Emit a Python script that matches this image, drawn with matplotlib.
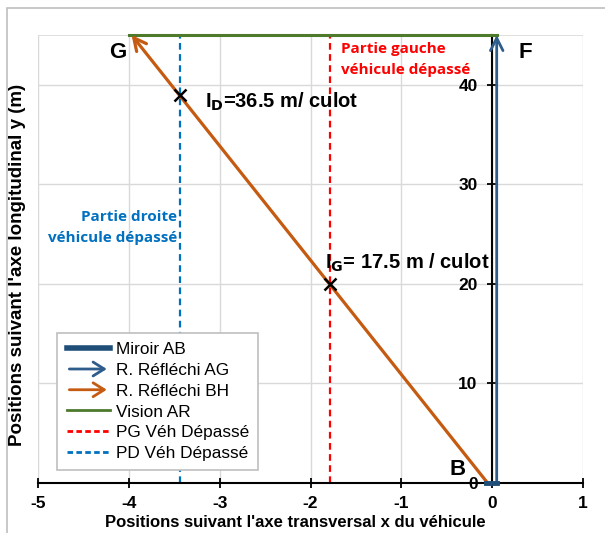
import matplotlib.pyplot as plt
from matplotlib.patches import FancyArrowPatch, Rectangle
from matplotlib.legend_handler import HandlerPatch
from matplotlib.lines import Line2D

plt.rcParams['font.family'] = ['Liberation Sans', 'DejaVu Sans']
plt.rcParams['axes.unicode_minus'] = False

# data
miroir_x = [-0.07, 0.05]
miroir_y = [0, 0]
ag_x = [0.05, 0.05]
ag_y = [0, 45]
bh_x = [-0.05, -3.97]
bh_y = [0, 45]
vision_x = [-4.0, 0.05]
vision_y = [45, 45]
pg_x = -1.78
pd_x = -3.44
cross_x = [-1.78, -3.44]
cross_y = [20, 39]

c_miroir = '#1F4E79'
c_ag = '#2E5D8C'
c_bh = '#C55A11'
c_vis = '#4E7A2C'
c_pg = '#FF0000'
c_pd = '#0070C0'


class HandlerArrow(HandlerPatch):
    def create_artists(self, legend, orig_handle, xdescent, ydescent,
                       width, height, fontsize, trans):
        y = height / 2 - ydescent
        p = FancyArrowPatch((-xdescent, y), (width - xdescent, y),
                            arrowstyle='->,head_length=8,head_width=5',
                            color=orig_handle.get_edgecolor(), lw=2,
                            mutation_scale=1)
        p.set_transform(trans)
        return [p]


fig = plt.figure(figsize=(6.05, 5.33), dpi=100)
ax = fig.add_axes([38 / 605, 1 - 483 / 533, 545 / 605, 448 / 533])

# outer chart border
fig.patches.append(Rectangle((7 / 605, -0.05), 1.2, 1 - 8 / 533 + 0.05,
                             transform=fig.transFigure, fill=False,
                             edgecolor='#BFBFBF', lw=1.2))

ax.set_xlim(-5, 1)
ax.set_ylim(0, 45)
ax.set_xticks(range(-5, 2))
ax.set_yticks(range(0, 41, 10))
ax.grid(True, color='#D9D9D9', lw=1)
ax.set_axisbelow(True)
ax.axhline(45, color='#D9D9D9', lw=1.2, zorder=0)

for s in ['top', 'right']:
    ax.spines[s].set_visible(False)
ax.spines['left'].set_position(('data', 0))
ax.spines['left'].set_color('black')
ax.spines['left'].set_linewidth(1.5)
ax.spines['bottom'].set_linewidth(1.5)
ax.tick_params(axis='both', direction='inout', length=7, width=1.3,
               labelsize=12.5)
ax.tick_params(axis='y', pad=7)
ax.tick_params(axis='x', pad=6)
for lab in ax.get_xticklabels() + ax.get_yticklabels():
    lab.set_fontweight('bold')

# series
ax.plot(vision_x, vision_y, color=c_vis, lw=2.2, zorder=3, clip_on=False)
ax.axvline(pg_x, color=c_pg, ls=(0, (3, 2)), lw=1.6, zorder=2)
ax.axvline(pd_x, color=c_pd, ls=(0, (3, 2)), lw=1.6, zorder=2)
ax.annotate('', xy=(bh_x[1], bh_y[1]), xytext=(bh_x[0], bh_y[0]),
            arrowprops=dict(arrowstyle='->,head_length=0.9,head_width=0.45',
                            color=c_bh, lw=2.3, shrinkA=0, shrinkB=0),
            zorder=4, annotation_clip=False)
ax.annotate('', xy=(ag_x[1], ag_y[1]), xytext=(ag_x[0], ag_y[0]),
            arrowprops=dict(arrowstyle='->,head_length=0.9,head_width=0.45',
                            color=c_ag, lw=2, shrinkA=0, shrinkB=0),
            zorder=4, annotation_clip=False)
ax.plot(miroir_x, miroir_y, color=c_miroir, lw=3.5, zorder=5, clip_on=False)
ax.plot(cross_x, cross_y, 'x', color='black', ms=8, mew=1.8, zorder=6)

# annotations
ax.text(-4.12, 43.2, 'G', fontsize=16, fontweight='bold', ha='center', va='center')
ax.text(0.37, 43.2, 'F', fontsize=16, fontweight='bold', ha='center', va='center')
ax.text(-0.38, 1.4, 'B', fontsize=16, fontweight='bold', ha='center', va='center')
ax.text(-3.16, 38.3, r'I$_\mathbf{D}$=36.5 m/ culot', fontsize=14.5,
        fontweight='bold', va='center')
ax.text(-1.84, 22.1, r'I$_\mathbf{G}$= 17.5 m / culot', fontsize=14.5,
        fontweight='bold', va='center')
ax.text(-1.663, 42.5, 'Partie gauche\nvéhicule dépassé', color=c_pg,
        fontsize=11, fontweight='bold', family=['Open Sans', 'DejaVu Sans'],
        va='center', linespacing=1.65)
ax.text(-3.47, 25.7, 'Partie droite\nvéhicule dépassé', color=c_pd,
        fontsize=11, fontweight='bold', family=['Open Sans', 'DejaVu Sans'],
        va='center', ha='right', ma='right', linespacing=1.65)

ax.set_xlabel("Positions suivant l'axe transversal x du véhicule",
              fontsize=12, fontweight='bold', labelpad=3)
ax.xaxis.set_label_coords((295 - 38) / 545, -0.072)
fig.text(18 / 605, 1 - 265 / 533, "Positions suivant l'axe longitudinal y (m)",
         rotation=90, fontsize=13.5, fontweight='bold', ha='center', va='center')

handles = [
    Line2D([], [], color=c_miroir, lw=4),
    FancyArrowPatch((0, 0), (1, 0), color=c_ag),
    FancyArrowPatch((0, 0), (1, 0), color=c_bh),
    Line2D([], [], color=c_vis, lw=2),
    Line2D([], [], color=c_pg, lw=2, ls=(0, (2, 1.2))),
    Line2D([], [], color=c_pd, lw=2, ls=(0, (2, 1.2))),
]
labels = ['Miroir AB', 'R. Réfléchi AG', 'R. Réfléchi BH', 'Vision AR',
          'PG Véh Dépassé', 'PD Véh Dépassé']
leg = ax.legend(handles, labels, loc='lower left',
                bbox_to_anchor=(0.035, 0.028), fontsize=12.4,
                handler_map={FancyArrowPatch: HandlerArrow()},
                handlelength=2.5, handletextpad=0.35, labelspacing=0.33,
                borderpad=0.55, borderaxespad=0, fancybox=False, framealpha=1,
                edgecolor='#BFBFBF')
leg.get_frame().set_linewidth(1.2)

fig.savefig('out.png', dpi=100)
